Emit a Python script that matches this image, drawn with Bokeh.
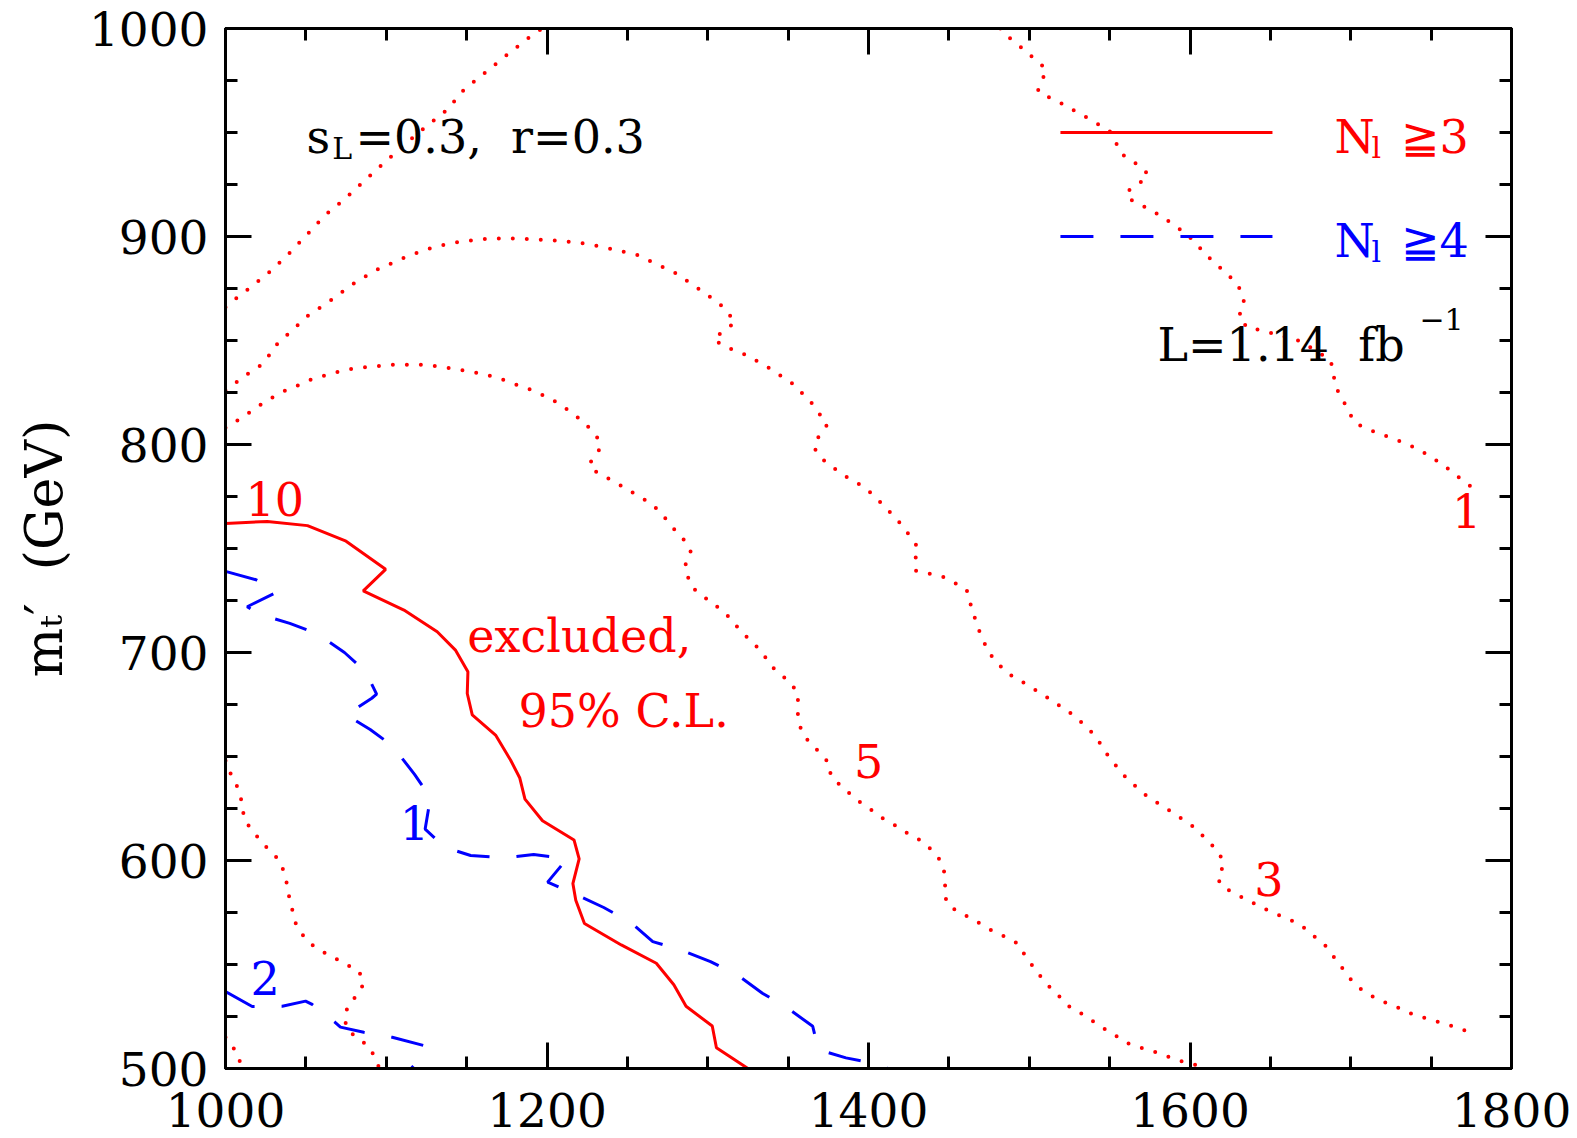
import numpy as np
from bokeh.plotting import figure
from bokeh.models import Range1d, FixedTicker, LinearAxis, Label
from bokeh.embed import file_html
from bokeh.resources import INLINE

# ---------------- data ----------------
x_major = [1000, 1200, 1400, 1600, 1800]
x_minor = list(range(1000, 1801, 50))
y_major = [500, 600, 700, 800, 900, 1000]
y_minor = list(range(500, 1001, 25))

# N_l >= 3 exclusion contour (solid red)
excl_n3 = [(1000, 762), (1026, 763), (1051, 761), (1075, 753.5), (1099.6, 740), (1085.7, 729.6),
           (1111, 720.4), (1131.7, 710), (1143.2, 701), (1150.8, 690.7), (1150.4, 680.3),
           (1153.5, 670), (1168, 660.3), (1177.4, 648.2), (1183, 639.8), (1186.3, 629.5),
           (1197.2, 619.1), (1216.8, 609.9), (1220, 600.8), (1216.1, 588.9), (1217.9, 580.9),
           (1223.3, 569.7), (1246.2, 559.4), (1268, 550.6), (1278.9, 540.3), (1286.5, 529.9),
           (1302.8, 520.4), (1305.4, 510), (1325, 500)]

# N_l >= 4 contours (dashed blue), labelled 1 and 2
n4_contour1 = [(1000, 739), (1019, 735), (1032, 729), (1013.5, 722), (1021, 718.4), (1040, 714),
               (1057, 709), (1074, 700), (1087, 691), (1094, 680), (1091, 678), (1075, 670),
               (1090, 663), (1104, 655), (1117.6, 641.4), (1127.5, 630.3), (1124.2, 615.1),
               (1136.2, 606.4), (1152.5, 602.4), (1173.2, 601.3), (1191.7, 602.9), (1212.4, 600.8),
               (1200.4, 589.6), (1217.4, 583.8), (1235.3, 577.4), (1251.6, 570.5), (1265.8, 561),
               (1283.2, 557), (1301.7, 551.4), (1318.4, 545), (1334, 536.2), (1349.7, 529),
               (1365.3, 520.3), (1368.8, 509.1), (1386, 505.1), (1401.7, 502.7), (1412, 500)]
n4_contour2 = [(1000, 537), (1016.6, 529.8), (1035.3, 529.9), (1049.8, 532.4), (1053.9, 530.8),
               (1068, 522.3), (1071.5, 519.9), (1086, 517.4), (1103.7, 515), (1123.1, 511.1),
               (1125.3, 508.4), (1115.5, 500)]

# dotted red contours
dot_1_left = [(1000, 866), (1006.2, 870), (1013, 874), (1026, 882), (1038.4, 890.9), (1050.2, 900.5),
              (1061.6, 910), (1074.2, 918.1), (1086.5, 926.9), (1099.1, 935.7), (1112, 944.6),
              (1124.4, 952.6), (1137.9, 960.9), (1148.3, 970.5), (1161.4, 978.7), (1174.6, 987),
              (1187.7, 995), (1197, 1000)]
dot_1_right = [(1482, 1000), (1484.7, 997.2), (1491.8, 993.1), (1498.3, 988.6), (1504.7, 984.5),
               (1510.7, 980.3), (1507.9, 974.9), (1505.3, 969.9), (1513.2, 966.5), (1520.8, 963.7),
               (1528.2, 960.4), (1535.3, 957.4), (1543.3, 953.8), (1550.1, 950.5), (1554, 945),
               (1557.7, 939.5), (1564.7, 935.9), (1571.8, 932.2), (1574, 928.9), (1567.5, 925.1),
               (1560.5, 921.3), (1562, 918.1), (1569.7, 915.1), (1576.5, 912.4), (1584, 908.8),
               (1591.1, 904.9), (1598, 901.1), (1604, 896.4), (1609.8, 891.4), (1615.6, 887),
               (1622.2, 882.8), (1628, 878.2), (1632.7, 872.9), (1633.8, 867), (1630.1, 861.3),
               (1636.2, 855.8), (1643.4, 855.1), (1650.9, 853.5), (1659.1, 851.8), (1667, 850.1),
               (1675.8, 846.3), (1687.6, 840.5), (1689.1, 833.9), (1691.2, 826.8), (1694.9, 821.8),
               (1698.7, 815.7), (1703, 810.2), (1710.5, 807.4), (1718, 805.2), (1726, 802.9),
               (1733.5, 800.8), (1741.6, 797.8), (1749.1, 794.5), (1756.2, 790.8), (1762.6, 787.2),
               (1769.5, 782.8), (1776.4, 778.9)]
dot_3 = [(1000, 826), (1008.3, 830.8), (1014.5, 834.3), (1021.8, 838), (1027.6, 843.3), (1032.2, 848.4),
         (1039, 853.2), (1051.4, 862), (1065.3, 869.2), (1078.8, 876.9), (1093.3, 883.7), (1108.4, 888.9),
         (1123.8, 893.6), (1140.4, 896.8), (1157.2, 898.6), (1174.2, 899.2), (1190.8, 898.7),
         (1207.8, 898), (1224.3, 896.5), (1240.9, 893.9), (1257, 890.9), (1264.4, 888.1),
         (1279.9, 882.4), (1293.8, 875.1), (1307.5, 867.6), (1317.3, 858.8), (1310, 854.8),
         (1303.8, 850.8), (1309, 847.6), (1324.6, 842.8), (1339, 836.4), (1353.6, 828.8),
         (1365, 819.6), (1374.3, 809.5), (1369.1, 804), (1366, 798.7), (1370.1, 793.6),
         (1383.6, 785.6), (1398.1, 779.2), (1410.1, 770.2), (1421.5, 760.6), (1431.2, 749.9),
         (1428.6, 743.9), (1429.2, 739.4), (1446, 736.5), (1461, 730.4), (1463.1, 724.2),
         (1467.9, 712.2), (1474.6, 700.1), (1485.4, 690.5), (1500.2, 683.8), (1514.8, 676.6),
         (1528.4, 669.4), (1540.9, 660.1), (1550, 649.2), (1560.7, 639.3), (1573.4, 630.8),
         (1587.9, 623.7), (1602, 616.3), (1612.8, 608.3), (1618.4, 602.9), (1621.5, 598.1),
         (1617, 592.3), (1619.4, 587.7), (1626.9, 584.5), (1634.1, 581.6), (1641.4, 578.7),
         (1649.5, 575.6), (1657.2, 573.1), (1664.6, 570.7), (1671.9, 567.2), (1678.5, 562.7),
         (1684.7, 558.7), (1689.9, 553.2), (1694.4, 548.6), (1699.3, 543.4), (1705.6, 538.6),
         (1712.5, 535.1), (1720.1, 532.2), (1728.1, 529.8), (1735.1, 527.1), (1743.1, 525),
         (1750.7, 523.1), (1759.4, 521.5), (1767.4, 519.1), (1775, 517.5)]
dot_5 = [(1000, 808), (1007.3, 811.5), (1014.5, 815.2), (1021.8, 819.1), (1028.6, 822.4), (1036.3, 825.6),
         (1044, 828), (1051.8, 830.8), (1059.7, 832.7), (1067.8, 834.5), (1076.1, 836.1), (1084, 836.9),
         (1092.7, 837.5), (1101.2, 838.3), (1109.9, 838.3), (1117.6, 838.3), (1125.9, 838.3),
         (1134.8, 837.2), (1143.1, 836.4), (1151.4, 835.1), (1159.7, 834), (1167.3, 832.4),
         (1175.6, 830.4), (1183.5, 828), (1191.2, 826), (1199.1, 823.1), (1206.7, 820),
         (1213.6, 816.3), (1220.2, 812.4), (1226.4, 808), (1231.6, 803), (1233.3, 798.2),
         (1227.7, 793.1), (1226.7, 788.6), (1233.9, 785.4), (1241.6, 782.2), (1248.8, 779),
         (1256.1, 775.5), (1263.3, 772.3), (1269.5, 768.3), (1275.1, 763.1), (1280.3, 758.2),
         (1286.1, 753.4), (1289.7, 747.9), (1286.1, 742.2), (1287.5, 736.5), (1291.3, 730.6),
         (1297.9, 726.6), (1304.8, 722.6), (1311.4, 718.6), (1316.6, 713.8), (1322.4, 708.9),
         (1328.6, 704.2), (1334.2, 699.9), (1338.4, 694.2), (1351, 685.7), (1356.4, 680.2),
         (1355.8, 674), (1356.3, 667.6), (1358.7, 661.4), (1363.5, 656.6), (1369.4, 652.1),
         (1375.4, 646.8), (1376.6, 640.5), (1382.6, 636), (1389, 631.7), (1395.3, 627.7),
         (1402.4, 624), (1408.9, 620.3), (1416, 617.2), (1423.2, 613.6), (1430.4, 610.7),
         (1437.1, 606.7), (1443, 602.1), (1446.6, 596.8), (1447.9, 589.9), (1447.1, 584),
         (1449.5, 578.4), (1456.6, 575.1), (1464.3, 572), (1476.4, 566.5), (1485.1, 563.3),
         (1493.8, 559.6), (1497.2, 554.5), (1502.4, 549), (1507.6, 543.7), (1512.8, 539.1),
         (1518.8, 534.6), (1525, 529.8), (1535.4, 525), (1544.1, 520.3), (1552.8, 516.3),
         (1559.7, 512.6), (1567.7, 510.4), (1577.1, 508.3), (1585.8, 505.9), (1592.7, 503.8),
         (1600.3, 502.7), (1608.3, 500.3)]
dot_10_upper = [(1000, 648), (1001.7, 643.6), (1005.8, 638.5), (1008.7, 632.4), (1010.8, 626),
                (1011.4, 619.6), (1016.6, 614.8), (1021.8, 609.3), (1027.6, 604.8), (1033.6, 600),
                (1036.7, 593.9), (1038.4, 588), (1039.8, 581.6), (1041.9, 575.2), (1044, 568.8),
                (1048.7, 563.5), (1054.6, 559), (1061.8, 555.6), (1069.1, 552.6), (1076.3, 549.5),
                (1082.9, 547.1), (1086, 541.1), (1082.9, 535.9), (1076.7, 531.1), (1074.2, 525.5),
                (1075.1, 519.6), (1080.9, 515.1), (1088.1, 511.4), (1092.7, 505.9), (1095.4, 500.6)]
dot_10_corner = [(1000, 515), (1001.7, 512.6), (1006.7, 508.3), (1009.3, 502.6), (1010.5, 500)]

RED = "#ff0000"
BLUE = "#0000ff"
FONT = "DejaVu Serif"

# ---------------- figure ----------------
p = figure(width=1577, height=1138, x_range=Range1d(1000, 1800), y_range=Range1d(500, 1000),
           output_backend="svg", toolbar_location=None,
           min_border_left=225, min_border_right=66, min_border_top=28, min_border_bottom=70)
p.grid.visible = False
p.background_fill_color = "white"
p.border_fill_color = "white"
p.outline_line_color = "black"
p.outline_line_width = 3

bottom = p.below[0]
left = p.left[0]
bottom.ticker = FixedTicker(ticks=x_major, minor_ticks=x_minor)
left.ticker = FixedTicker(ticks=y_major, minor_ticks=y_minor)
top = LinearAxis(ticker=FixedTicker(ticks=x_major, minor_ticks=x_minor))
right = LinearAxis(ticker=FixedTicker(ticks=y_major, minor_ticks=y_minor))
p.add_layout(top, "above")
p.add_layout(right, "right")

for ax in [bottom, left, top, right]:
    ax.axis_line_width = 3
    ax.axis_line_color = "black"
    ax.major_tick_in = 26
    ax.major_tick_out = 0
    ax.minor_tick_in = 12
    ax.minor_tick_out = 0
    ax.major_tick_line_width = 3
    ax.minor_tick_line_width = 3
    ax.major_tick_line_color = "black"
    ax.minor_tick_line_color = "black"
    ax.major_label_text_font = FONT
    ax.major_label_text_font_size = "47px"
    ax.major_label_text_color = "black"
for ax in [top, right]:
    ax.major_label_text_font_size = "1px"
    ax.major_label_text_color = None
    ax.major_label_standoff = 0
bottom.major_label_standoff = 24
left.major_label_standoff = 17

left.axis_label = "m\u209c\u2032\u00a0\u00a0(GeV)"
left.axis_label_text_font = FONT
left.axis_label_text_font_style = "normal"
left.axis_label_text_font_size = "52px"
left.axis_label_text_color = "black"
left.axis_label_standoff = 12

def draw(pts, **kw):
    xs = [a for a, b in pts]
    ys = [b for a, b in pts]
    p.line(xs, ys, **kw)

draw(excl_n3, line_color=RED, line_width=3)
for c in [n4_contour1, n4_contour2]:
    draw(c, line_color=BLUE, line_width=3, line_dash="33 27")
for c in [dot_1_left, dot_1_right, dot_3, dot_5, dot_10_upper, dot_10_corner]:
    draw(c, line_color=RED, line_width=4, line_dash="0 14", line_cap="round")

# legend samples
p.line([1519.4, 1651.3], [950, 950], line_color=RED, line_width=3)
p.line([1519.4, 1651.3], [900, 900], line_color=BLUE, line_width=3, line_dash="33 27")

DY = 8.0  # baseline correction

def lab(x, y, t, color="black", size="46px"):
    p.add_layout(Label(x=x, y=y + DY, text=t, text_color=color, text_font=FONT,
                       text_font_size=size, text_align="left", text_baseline="alphabetic"))

# legend texts
lab(1689.9, 940, "N", RED)
lab(1712.9, 934.6, "l", RED, "30px")
lab(1731, 940, "\u22673", RED)
lab(1689.9, 890, "N", BLUE)
lab(1712.9, 884.6, "l", BLUE, "30px")
lab(1731, 890, "\u22674", BLUE)

# parameter text
lab(1050.4, 940, "s")
lab(1066.4, 934.1, "L", size="30px")
lab(1080.9, 940, "=0.3,\u00a0 r=0.3")
lab(1579.8, 839.7, "L=1.14\u00a0 fb")
lab(1742.7, 852.2, "\u22121", size="30px")

# excluded text
lab(1150.4, 700.1, "excluded,", RED)
lab(1182.3, 664.1, "95% C.L.", RED)

# contour labels
lab(1012.4, 766, "10", RED)
lab(1391, 640, "5", RED)
lab(1640, 583.2, "3", RED)
lab(1763, 760.1, "1", RED)
lab(1108.4, 610.2, "1", BLUE)
lab(1015.6, 535.6, "2", BLUE)

open("out.html", "w").write(file_html(p, INLINE))
